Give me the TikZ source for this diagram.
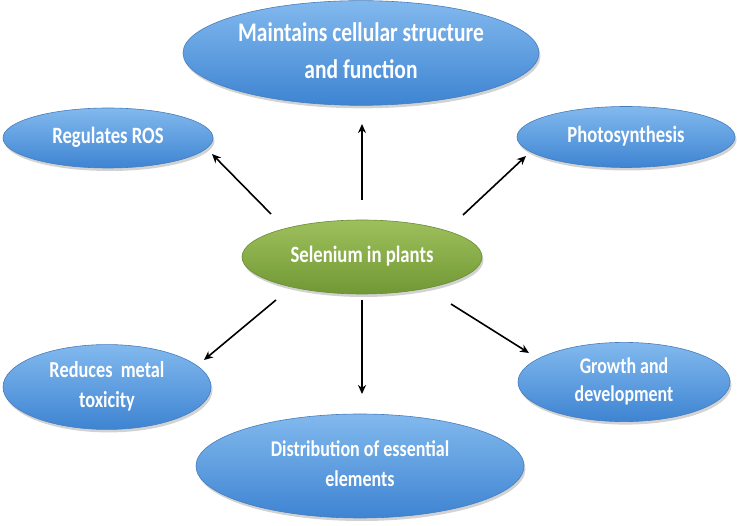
\documentclass[tikz,border=0pt]{standalone}
\usepackage{fontspec}
\usepackage{graphicx}
\setmainfont{Carlito}
\usetikzlibrary{shapes.geometric,shadows,arrows.meta}
\definecolor{bluetop}{RGB}{130,185,238}
\definecolor{bluebot}{RGB}{62,132,210}
\definecolor{blueedge}{RGB}{70,125,190}
\definecolor{greentop}{RGB}{158,192,92}
\definecolor{greenbot}{RGB}{112,152,52}
\definecolor{greenedge}{RGB}{105,140,55}
\newcommand\tx[3]{\scalebox{1}[1.25]{\fontsize{#1}{#2}\selectfont\begin{tabular}{@{}c@{}}#3\end{tabular}}}
\tikzset{
  bubble/.style={ellipse, inner sep=0pt, top color=bluetop, bottom color=bluebot,
    draw=blueedge, line width=0.6pt, text=white, font=\bfseries,
    align=center, drop shadow={shadow xshift=1.5pt, shadow yshift=-3pt, opacity=0.35}},
  centre/.style={bubble, top color=greentop, bottom color=greenbot, draw=greenedge},
  arr/.style={-{Stealth[length=9pt,width=8pt]}, line width=1.6pt, black}
}
\begin{document}
\begin{tikzpicture}[x=1pt,y=-1pt]
\useasboundingbox (0,0) rectangle (737,526);
\fill[white] (0,0) rectangle (737,526);
\node[bubble, minimum width=356pt, minimum height=102pt] (top) at (361,53)
  {\tx{21.5}{29.6}{Maintains cellular structure\\and function}};
\node[bubble, minimum width=210pt, minimum height=60pt] (ros) at (108,138)
  {\tx{18.7}{22}{Regulates ROS}};
\node[bubble, minimum width=218pt, minimum height=61pt] (photo) at (626,137)
  {\tx{18.6}{22}{Photosynthesis}};
\node[centre, minimum width=240pt, minimum height=74pt] (sel) at (362,257)
  {\tx{18.7}{22}{Selenium in plants}};
\node[bubble, minimum width=208pt, minimum height=62pt] (metal) at (107,387)
  {\tx{18.3}{24}{Reduces\ \ metal\\toxicity}};
\node[bubble, minimum width=212pt, minimum height=63pt] (growth) at (624,382)
  {\tx{17.9}{22.4}{Growth and\\development}};
\node[bubble, minimum width=328pt, minimum height=104pt] (dist) at (360,466)
  {\tx{18}{24}{Distribution of essential\\elements}};
\coordinate (aU0) at (362,200); \coordinate (aU1) at (362,124);
\coordinate (aUL0) at (271,214); \coordinate (aUL1) at (212,154);
\coordinate (aUR0) at (463,215); \coordinate (aUR1) at (526,156);
\coordinate (aDL0) at (276,300); \coordinate (aDL1) at (204,360);
\coordinate (aD0) at (362,300); \coordinate (aD1) at (362,394);
\coordinate (aDR0) at (451,304); \coordinate (aDR1) at (529,353);
\draw[arr] (aU0) -- (aU1);
\draw[arr] (aUL0) -- (aUL1);
\draw[arr] (aUR0) -- (aUR1);
\draw[arr] (aDL0) -- (aDL1);
\draw[arr] (aD0) -- (aD1);
\draw[arr] (aDR0) -- (aDR1);
\end{tikzpicture}
\end{document}
